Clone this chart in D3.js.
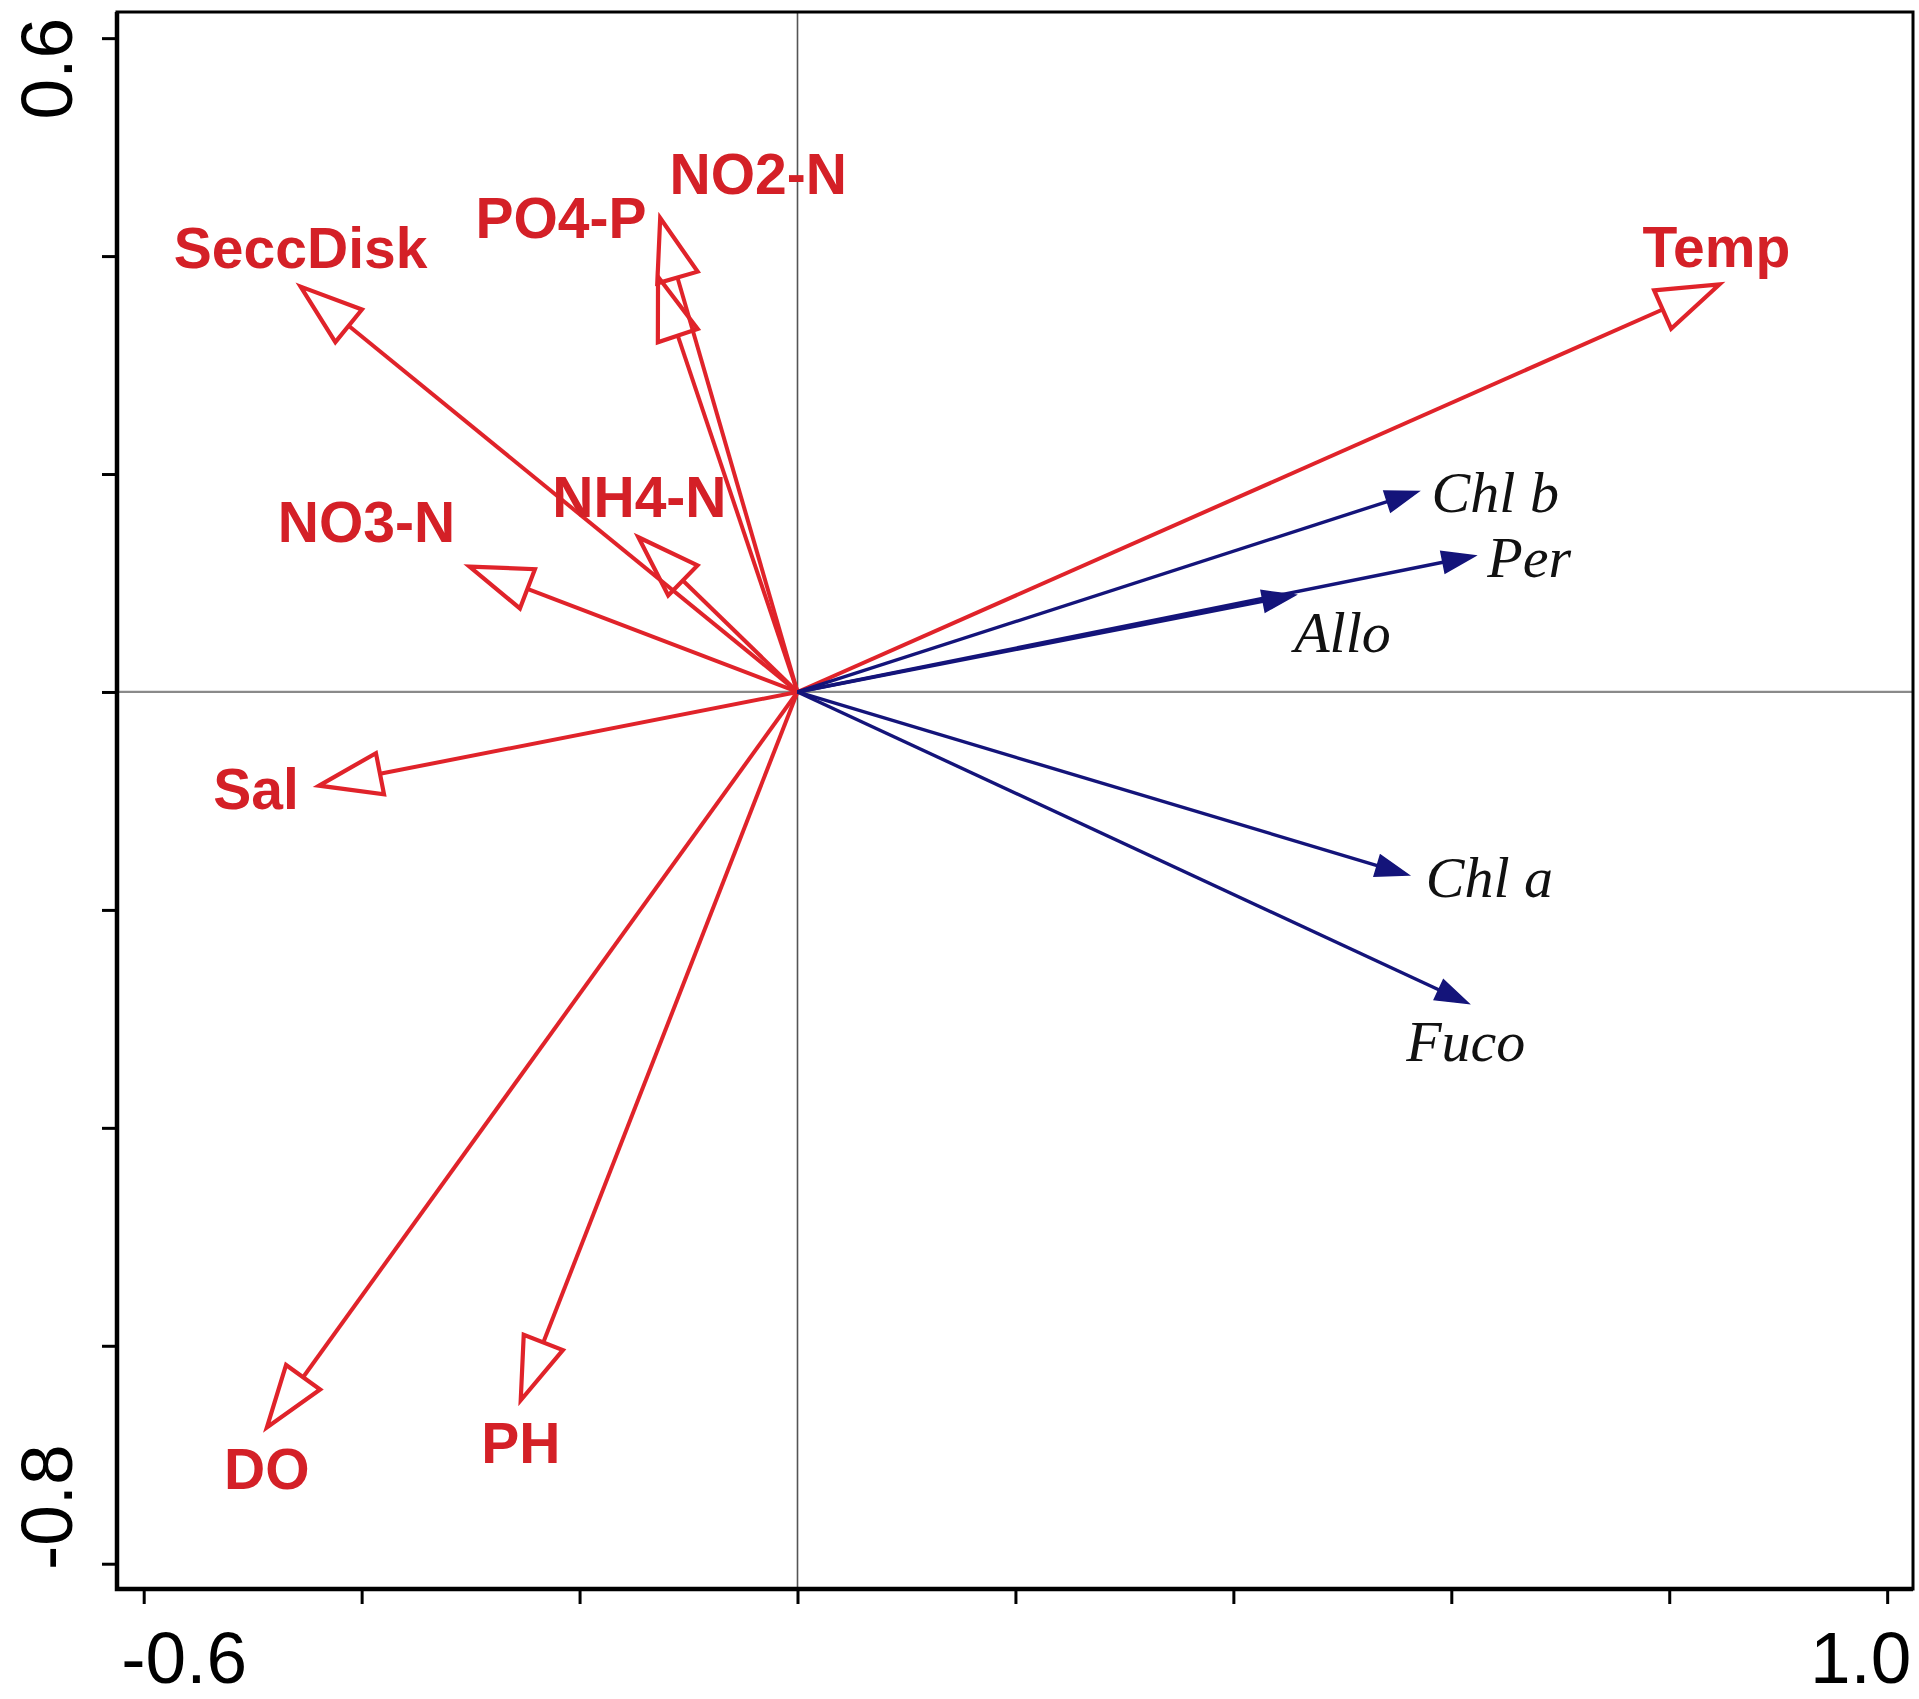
<!DOCTYPE html>
<html>
<head>
<meta charset="utf-8">
<script src="https://cdn.jsdelivr.net/npm/d3@7"></script>
<style>
  body { margin: 0; background: #fff; }
  svg { display: block; }
  .tick-label { font-family: "Liberation Sans", Arial, sans-serif; font-size: 73px; fill: #000; }
  .env-label { font-family: "Liberation Sans", Arial, sans-serif; font-weight: bold; font-size: 57px; fill: #d42027; }
  .pig-label { font-family: "Liberation Serif", "Times New Roman", serif; font-style: italic; font-size: 58px; fill: #111; }
</style>
</head>
<body>
<svg id="chart" width="1919" height="1699"></svg>
<script>
// DATA: environmental variables (red, open heads)
const envNames = ["Temp", "SeccDisk", "PO4-P", "NO2-N", "NH4-N", "NO3-N", "Sal", "DO", "PH"];
const envAxis1 = [0.846, -0.456, -0.128, -0.126, -0.146, -0.301, -0.439, -0.487, -0.254];
const envAxis2 = [0.374, 0.372, 0.381, 0.435, 0.142, 0.115, -0.086, -0.675, -0.650];

// DATA: pigments (navy, filled heads)
const pigNames = ["Chl b", "Per", "Allo", "Chl a", "Fuco"];
const pigAxis1 = [0.570, 0.622, 0.457, 0.561, 0.616];
const pigAxis2 = [0.184, 0.125, 0.089, -0.168, -0.286];

// ticks
const xTickValues = [-0.6, -0.4, -0.2, 0, 0.2, 0.4, 0.6, 0.8, 1.0];
const yTickValues = [0.6, 0.4, 0.2, 0, -0.2, -0.4, -0.6, -0.8];
const xTickLabels = ["-0.6", "1.0"];
const yTickLabels = ["0.6", "-0.8"];

// label placement relative to arrow tip (px): [dx, dy, anchor]
const envLabelPos = {
  "Temp": [-3, -17, "middle"], "SeccDisk": [0, -19, "middle"],
  "PO4-P": [-97, -39, "middle"], "NO2-N": [98, -24, "middle"],
  "NH4-N": [1, -20, "middle"], "NO3-N": [-103, -25, "middle"],
  "Sal": [-63, 23, "middle"], "DO": [0, 61, "middle"], "PH": [0, 63, "middle"]
};
const pigLabelPos = {
  "Chl b": [13, 21, "start"], "Per": [12, 21, "start"], "Allo": [47, 57, "middle"],
  "Chl a": [17, 22, "start"], "Fuco": [-3, 57, "middle"]
};

const svg = d3.select("#chart");
svg.append("rect").attr("width", 1919).attr("height", 1699).attr("fill", "#fff");

// SCALES (frame 117..1913 x 12..1589)
const x = d3.scaleLinear().domain([-0.6245, 1.0237]).range([117, 1913]);
const y = d3.scaleLinear().domain([0.624, -0.8232]).range([12, 1589]);

// zero lines
svg.append("line")
  .attr("x1", x.range()[0]).attr("x2", x.range()[1])
  .attr("y1", y(0)).attr("y2", y(0))
  .attr("stroke", "#8a8a8a").attr("stroke-width", 2.2);
svg.append("line")
  .attr("x1", x(0)).attr("x2", x(0))
  .attr("y1", y.range()[0]).attr("y2", y.range()[1])
  .attr("stroke", "#555").attr("stroke-width", 1.6);

// AXES (ticks only, labels only at the ends)
const xAxis = svg.append("g")
  .attr("transform", `translate(0,${y.range()[1]})`)
  .call(d3.axisBottom(x).tickValues(xTickValues).tickSize(15).tickSizeOuter(0)
    .tickFormat(d => xTickLabels.includes(d.toFixed(1)) ? d.toFixed(1) : ""));
xAxis.select(".domain").remove();
xAxis.selectAll(".tick line").attr("stroke", "#000").attr("stroke-width", 3);
xAxis.selectAll(".tick text")
  .attr("class", "tick-label").attr("font-size", null).attr("font-family", null)
  .attr("fill", null).attr("y", null).attr("dy", null)
  .attr("transform", d => `translate(${d < 0 ? 40 : -27},94)`);

const yAxis = svg.append("g")
  .attr("transform", `translate(${x.range()[0]},0)`)
  .call(d3.axisLeft(y).tickValues(yTickValues).tickSize(15).tickSizeOuter(0)
    .tickFormat(d => yTickLabels.includes(d.toFixed(1)) ? d.toFixed(1) : ""));
yAxis.select(".domain").remove();
yAxis.selectAll(".tick line").attr("stroke", "#000").attr("stroke-width", 3);
yAxis.selectAll(".tick text")
  .attr("class", "tick-label").attr("font-size", null).attr("font-family", null)
  .attr("fill", null).attr("x", null).attr("dy", null)
  .attr("text-anchor", "middle")
  .attr("transform", d => `translate(-45,${d > 0 ? 30 : -57}) rotate(-90)`);

// frame: thin top/right, heavier left/bottom axes
svg.append("rect")
  .attr("x", x.range()[0]).attr("y", y.range()[0])
  .attr("width", x.range()[1] - x.range()[0])
  .attr("height", y.range()[1] - y.range()[0])
  .attr("fill", "none").attr("stroke", "#000").attr("stroke-width", 3);
svg.append("path")
  .attr("d", d3.line()([[x.range()[0], y.range()[0]], [x.range()[0], y.range()[1]], [x.range()[1], y.range()[1]]]))
  .attr("fill", "none").attr("stroke", "#000").attr("stroke-width", 4.5);

// arrow geometry helper
function arrowParts(x1, y1, len, halfW) {
  const x0 = x(0), y0 = y(0);
  const L = Math.hypot(x1 - x0, y1 - y0);
  const ux = (x1 - x0) / L, uy = (y1 - y0) / L;
  const bx = x1 - ux * len, by = y1 - uy * len;
  return {
    shaft: [[x0, y0], [bx, by]],
    head: [[x1, y1], [bx - uy * halfW, by + ux * halfW], [bx + uy * halfW, by - ux * halfW]]
  };
}

// RED ARROWS
const envData = envNames.map((n, i) => ({ name: n, a1: envAxis1[i], a2: envAxis2[i] }));
const gEnv = svg.append("g");
envData.forEach(d => {
  const p = arrowParts(x(d.a1), y(d.a2), 62, 21);
  gEnv.append("path").attr("d", d3.line()(p.shaft))
    .attr("stroke", "#e0232a").attr("stroke-width", 4).attr("fill", "none");
  gEnv.append("path").attr("d", d3.line()(p.head) + "Z")
    .attr("stroke", "#e0232a").attr("stroke-width", 4.2).attr("fill", "none")
    .attr("stroke-linejoin", "miter");
});
gEnv.selectAll("text").data(envData).join("text")
  .attr("class", "env-label")
  .attr("x", d => x(d.a1) + envLabelPos[d.name][0])
  .attr("y", d => y(d.a2) + envLabelPos[d.name][1])
  .attr("text-anchor", d => envLabelPos[d.name][2])
  .text(d => d.name);

// BLUE ARROWS
const pigData = pigNames.map((n, i) => ({ name: n, a1: pigAxis1[i], a2: pigAxis2[i] }));
const gPig = svg.append("g");
pigData.forEach(d => {
  const p = arrowParts(x(d.a1), y(d.a2), 33, 11);
  gPig.append("path").attr("d", d3.line()([p.shaft[0], [ (p.shaft[1][0] + p.head[0][0]) / 2, (p.shaft[1][1] + p.head[0][1]) / 2 ]]))
    .attr("stroke", "#14147a").attr("stroke-width", 3.4).attr("fill", "none");
  gPig.append("path").attr("d", d3.line()(p.head) + "Z")
    .attr("fill", "#14147a").attr("stroke", "#14147a").attr("stroke-width", 1.5);
});
gPig.selectAll("text").data(pigData).join("text")
  .attr("class", "pig-label")
  .attr("x", d => x(d.a1) + pigLabelPos[d.name][0])
  .attr("y", d => y(d.a2) + pigLabelPos[d.name][1])
  .attr("text-anchor", d => pigLabelPos[d.name][2])
  .text(d => d.name);
</script>
</body>
</html>
